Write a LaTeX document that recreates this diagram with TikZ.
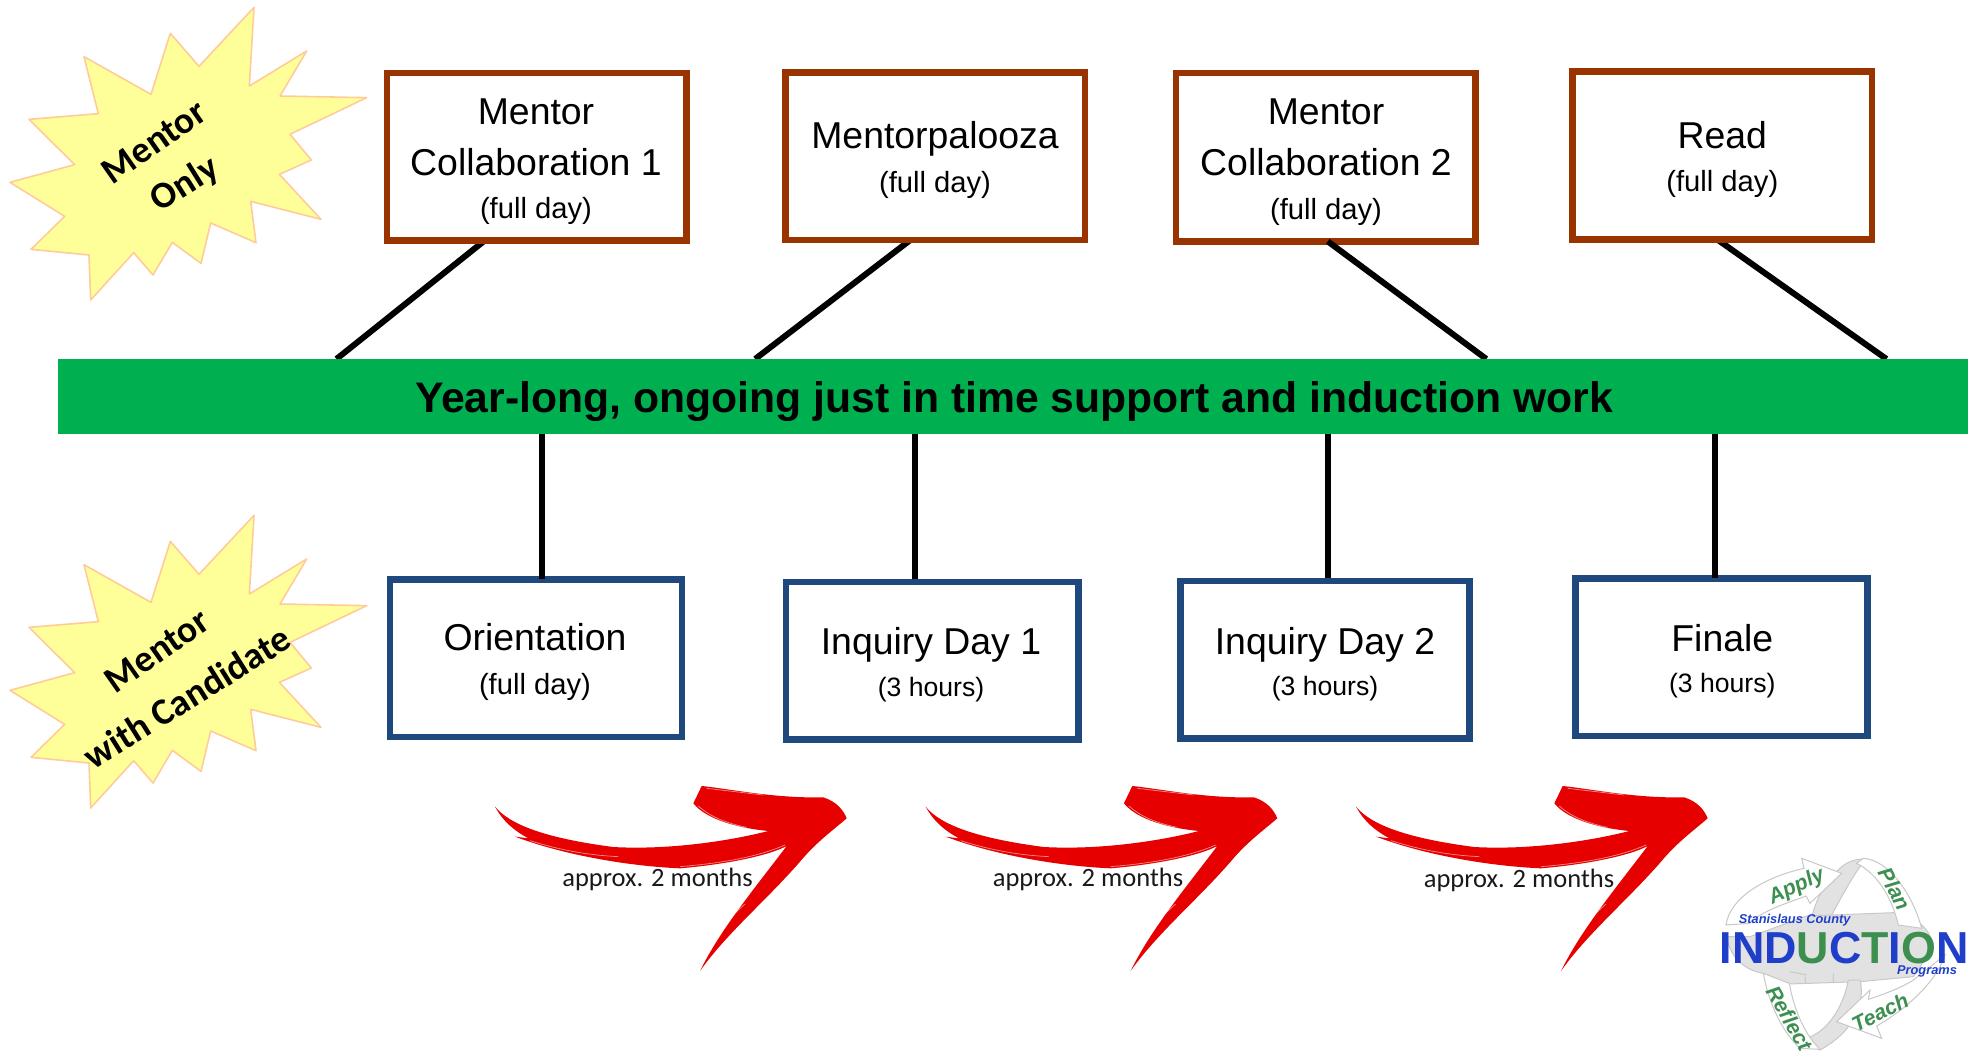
\documentclass[tikz,border=0pt]{standalone}
\usepackage{fontspec}
\setmainfont{Liberation Sans}
\newfontfamily\carlito{Carlito}
\usetikzlibrary{calc}
\pgfdeclarelayer{bg}
\pgfdeclarelayer{fg}
\pgfsetlayers{bg,main,fg}
\definecolor{brownline}{HTML}{993300}
\definecolor{blueline}{HTML}{1F497D}
\definecolor{bargreen}{HTML}{00B050}
\definecolor{burstfill}{HTML}{FFFF99}
\definecolor{burstline}{HTML}{FFCC99}
\definecolor{arrowred}{HTML}{E60000}
\definecolor{logoblue}{HTML}{1F3FCB}
\definecolor{logogreen}{HTML}{3D8F50}
\definecolor{logogrey}{HTML}{E2E2E2}
\definecolor{logoline}{HTML}{C8C8C8}
\newcommand{\fsz}[1]{\fontsize{#1}{#1}\selectfont}
\tikzset{
  x=0.5pt,y=-0.5pt,
  boxbase/.style={rectangle,fill=white,line width=3.25pt,inner sep=0pt,outer sep=0pt},
  topbox/.style={boxbase,draw=brownline},
  lowbox/.style={boxbase,draw=blueline},
  titletext/.style={anchor=base,inner sep=0pt,yshift=-0.6pt,font=\fsz{18.7pt}},
  subtext/.style={anchor=base,inner sep=0pt,yshift=-0.6pt,font=\fsz{14.6pt}},
  hourtext/.style={anchor=base,inner sep=0pt,yshift=-0.6pt,font=\fsz{13.3pt}},
  bartext/.style={anchor=base,inner sep=0pt,font=\bfseries\fsz{21.35pt}},
  linkline/.style={draw=black,line width=3pt},
  behind/.style={linkline,shorten <=-3pt},
  bursttext/.style={inner sep=0pt,font=\carlito\bfseries\fsz{18.7pt},rotate=35},
  monthtext/.style={anchor=base,inner sep=0pt,font=\carlito\fsz{13.25pt},text=black!90},
  burstshape/.style={fill=burstfill,draw=burstline,line width=0.8pt,line join=round},
  redstroke/.style={fill=arrowred,draw=none},
  redstreak/.style={draw=white,opacity=0.55,line width=0.35pt},
  zoomunits/.style={x=0.16667pt,y=-0.16667pt},
  ribbon/.style={fill=white,draw=logoline,line width=0.5pt},
  ribbongrey/.style={fill=logogrey,draw=logoline,line width=0.5pt},
  logoword/.style={inner sep=0pt,text=logogreen,font=\bfseries\itshape\fsz{10.6pt}},
  logosmall/.style={anchor=base,inner sep=0pt,text=logoblue,font=\bfseries\itshape\fsz{6.4pt}},
  logomain/.style={anchor=base,inner sep=0pt,text=logoblue,font=\bfseries\fsz{22.4pt}},
}
\newcommand{\burstpath}{(762,22)--(748,258)--(920,153)--(840,288)--(1100,293)--(870,403)--(934,480)--(838,523)--(963,658)--(752,604)--(768,728)--(632,669)--(603,790)--(517,727)--(459,825)--(401,758)--(272,900)--(267,765)--(93,748)--(194,649)--(30,547)--(224,494)--(87,358)--(295,341)--(252,170)--(453,283)--(511,100)--(597,199)--cycle}
\newcommand{\redpath}{(45,110) .. controls (90,165) and (200,205) .. (400,231) .. controls (560,240) and (740,215) .. (865,183) .. controls (780,175) and (680,150) .. (640,100) -- (665,48) .. controls (760,58) and (880,85) .. (1030,82) .. controls (1070,95) and (1090,120) .. (1100,145) .. controls (1060,180) and (1010,215) .. (960,275) .. controls (860,390) and (740,490) .. (660,603) .. controls (720,480) and (820,360) .. (920,228) .. controls (860,260) and (720,285) .. (600,295) .. controls (480,290) and (280,265) .. (105,200) -- (145,205) .. controls (100,180) and (70,155) .. (45,110) -- cycle}
\newcommand{\redlines}{(150,212) .. controls (240,240) and (320,255) .. (415,260) (655,108) .. controls (690,140) and (740,160) .. (800,172) (600,290) .. controls (720,280) and (830,262) .. (915,225) (748,445) -- (795,402) (680,55) -- (850,75)}
\begin{document}
\begin{tikzpicture}
\useasboundingbox (0,0) rectangle (1980,1053);
% bar
\begin{pgfonlayer}{fg}
\node[fill=bargreen,inner sep=0pt,outer sep=0pt,minimum width=955pt,minimum height=37.5pt] (bar) at (1013,396.5) {};
\node[bartext] (bartitle) at (1014,413) {Year-long, ongoing just in time support and induction work};
\end{pgfonlayer}
% bursts
\begin{scope}[zoomunits]
\path[burstshape] \burstpath;
\end{scope}
\begin{scope}[zoomunits,yshift=-254pt]
\path[burstshape] \burstpath;
\end{scope}
\node[bursttext] (b1a) at (154,142) {Mentor};
\node[bursttext,rotate=-3] (b1b) at (185,185) {Only};
\node[bursttext] (b2a) at (157,651) {Mentor};
\node[bursttext,rotate=-3] (b2b) at (187,697) {with Candidate};
% top boxes
\node[topbox,minimum width=299.3pt*0.5,minimum height=167.5pt*0.5] (m1) at (536.6,157) {};
\node[topbox,minimum width=299.8pt*0.5,minimum height=167.8pt*0.5] (mp) at (935.2,156.2) {};
\node[topbox,minimum width=299.4pt*0.5,minimum height=168.2pt*0.5] (m2) at (1325.8,157.3) {};
\node[topbox,minimum width=299.4pt*0.5,minimum height=167.9pt*0.5] (rd) at (1722.2,155.5) {};
% low boxes
\node[lowbox,minimum width=292pt*0.5,minimum height=157.5pt*0.5] (or) at (535.8,658) {};
\node[lowbox,minimum width=292.7pt*0.5,minimum height=157.2pt*0.5] (i1) at (932.1,660.8) {};
\node[lowbox,minimum width=289pt*0.5,minimum height=157.2pt*0.5] (i2) at (1325.2,659.8) {};
\node[lowbox,minimum width=292pt*0.5,minimum height=157.5pt*0.5] (fi) at (1721.7,657) {};
% texts
\node[titletext] (m1a) at (536,123) {Mentor};
\node[titletext] (m1b) at (536,174.3) {Collaboration 1};
\node[subtext] (m1c) at (536,217.7) {(full day)};
\node[titletext] (mpa) at (935,147.7) {Mentorpalooza};
\node[subtext] (mpc) at (935,191.2) {(full day)};
\node[titletext] (m2a) at (1326,123) {Mentor};
\node[titletext] (m2b) at (1326,174.3) {Collaboration 2};
\node[subtext] (m2c) at (1326,218) {(full day)};
\node[titletext] (rda) at (1722.3,147.3) {Read};
\node[subtext] (rdc) at (1722.3,190.7) {(full day)};
\node[titletext] (ora) at (535,649.3) {Orientation};
\node[subtext] (orc) at (535,693.3) {(full day)};
\node[titletext] (i1a) at (931,653) {Inquiry Day 1};
\node[hourtext] (i1c) at (931,695.7) {(3 hours)};
\node[titletext] (i2a) at (1325,653.3) {Inquiry Day 2};
\node[hourtext] (i2c) at (1325,694.3) {(3 hours)};
\node[titletext] (fia) at (1722.3,650.3) {Finale};
\node[hourtext] (fic) at (1722.3,691.7) {(3 hours)};
% connectors
\begin{pgfonlayer}{bg}
\draw[behind] ($(m1.south west)!0.3256!(m1.south east)$) -- ($(bar.north west)!0.1458!(bar.north east)$);
\draw[behind] ($(mp.south west)!0.4167!(mp.south east)$) -- ($(bar.north west)!0.3650!(bar.north east)$);
\draw[behind] ($(rd.south west)!0.4833!(rd.south east)$) -- ($(bar.north west)!0.9573!(bar.north east)$);
\draw[linkline] ($(bar.south west)!0.2536!(bar.south east)$) coordinate (v1) -- (v1 |- or.north);
\draw[linkline] ($(bar.south west)!0.4485!(bar.south east)$) coordinate (v2) -- (v2 |- i1.north);
\draw[linkline] ($(bar.south west)!0.6648!(bar.south east)$) coordinate (v3) -- (v3 |- i2.north);
\draw[linkline] ($(bar.south west)!0.8675!(bar.south east)$) coordinate (v4) -- (v4 |- fi.north);
\end{pgfonlayer}
\draw[linkline] ($(m2.south west)!0.5066!(m2.south east)$) -- ($(bar.north west)!0.7478!(bar.north east)$);
\draw[linkline] (v1 |- or.north) -- ++(0,-6);
\draw[linkline] (v4 |- fi.north) -- ++(0,-6);
% red arrows
\begin{scope}[zoomunits,xshift=240pt,yshift=-385pt]
\path[redstroke] \redpath;
\path[redstreak] \redlines;
\end{scope}
\begin{scope}[zoomunits,xshift=455.3pt,yshift=-385pt]
\path[redstroke] \redpath;
\path[redstreak] \redlines;
\end{scope}
\begin{scope}[zoomunits,xshift=670.5pt,yshift=-385pt]
\path[redstroke] \redpath;
\path[redstreak] \redlines;
\end{scope}
\node[monthtext] (t1) at (657.5,886) {approx. 2 months};
\node[monthtext] (t2) at (1088,886) {approx. 2 months};
\node[monthtext] (t3) at (1519,887) {approx. 2 months};
% logo
\begin{scope}[zoomunits,xshift=850pt,yshift=-420pt]
\path[ribbongrey] (420,85) .. controls (440,65) and (470,55) .. (495,58) .. controls (450,120) and (420,180) .. (395,225) -- (335,235) .. controls (345,180) and (380,120) .. (420,85) -- cycle;
\path[ribbongrey] (320,228) -- (580,218) .. controls (640,225) and (690,260) .. (700,320) -- (640,410) -- (480,425) -- (265,432) -- (190,400) .. controls (130,390) and (90,350) .. (80,290) -- (150,290) -- cycle;
\path[ribbongrey] (480,420) .. controls (495,480) and (470,570) .. (360,630) .. controls (340,620) and (310,610) .. (295,600) .. controls (380,590) and (430,500) .. (445,420) -- cycle;
\path[ribbon] (490,55) .. controls (570,60) and (640,170) .. (665,265) -- (595,255) .. controls (575,170) and (530,100) .. (470,70) -- cycle;
\path[ribbon] (425,100) -- (305,55) -- (312,85) .. controls (200,110) and (90,170) .. (78,255) -- (148,250) .. controls (190,210) and (260,190) .. (318,168) -- (330,190) -- cycle;
\path[ribbon] (190,400) .. controls (205,490) and (250,580) .. (300,625) -- (360,628) .. controls (310,580) and (280,500) .. (268,430) -- cycle;
\path[ribbon] (410,545) -- (510,450) -- (505,478) .. controls (560,460) and (610,440) .. (640,420) -- (735,345) .. controls (710,420) and (630,500) .. (530,558) -- (545,595) -- cycle;
\draw[logoline,line width=0.5pt] (315,410) -- (318,432) (400,400) -- (400,428) (270,395) -- (320,405);
\node[logoword,rotate=25] (lapply) at (290,140) {Apply};
\node[logoword,rotate=-62] (lplan) at (585,147) {Plan};
\node[logoword,rotate=-60] (lreflect) at (268,535) {Reflect};
\node[logoword,rotate=27] (lteach) at (540,517) {Teach};
\node[logosmall] (lstan) at (284,250) {Stanislaus County};
\node[logomain] (lind) at (432,370) {IN\textcolor{logoblue}{D}\textcolor{logogreen}{U}C\textcolor{logogreen}{T}I\textcolor{logogreen}{O}N};
\node[logosmall] (lprog) at (681,403) {Programs};
\end{scope}
\end{tikzpicture}
\end{document}
